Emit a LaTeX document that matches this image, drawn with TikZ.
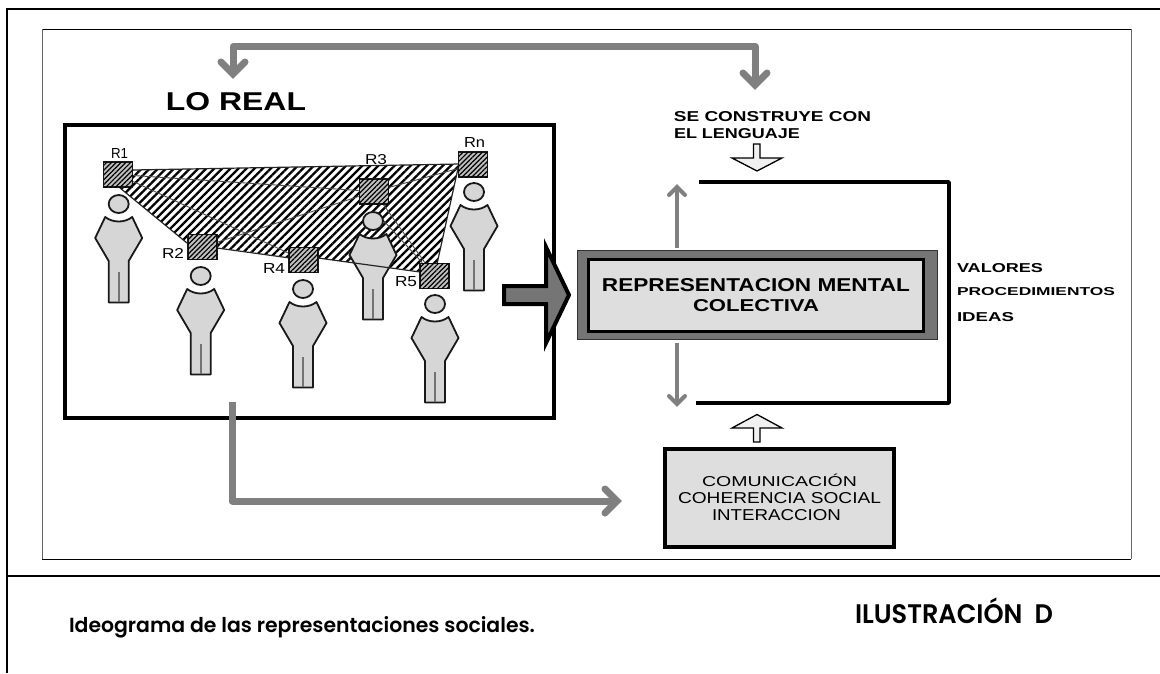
\documentclass[tikz,border=0pt]{standalone}
\usepackage{graphicx}
\usepackage{fontspec}
\setmainfont{Liberation Sans}
\newfontfamily\capsfont{Liberation Sans}
\newfontfamily\gothfont[BoldFont={Poppins SemiBold}]{Poppins}
\usetikzlibrary{arrows.meta,patterns.meta,shapes.geometric}
\definecolor{pale}{gray}{0.87}
\definecolor{body}{gray}{0.84}
\definecolor{midgray}{gray}{0.5}
\definecolor{darkfill}{gray}{0.46}
\tikzset{
  lbl/.style={inner sep=0pt,outer sep=0pt,text=black},
  frameline/.style={line width=2pt,black},
  graywire/.style={midgray,line width=7pt,line join=round},
  grayshort/.style={midgray,line width=4pt},
  linkline/.style={black!70,line width=0.9pt},
  edgeline/.style={black!85,line width=1.2pt},
  headshape/.style={draw=black!90,fill=body,line width=1.8pt,ellipse,minimum width=20pt,minimum height=18pt,inner sep=0pt},
  bodyshape/.style={draw=black!90,fill=body,line width=1.8pt,line join=round},
  rep/.style={draw=black!90,line width=1.6pt,fill=black!25,minimum width=29pt,minimum height=25pt,inner sep=0pt,
    postaction={pattern={Lines[angle=45,distance=3.4pt,line width=1.2pt]},pattern color=black}},
  hollow/.style={draw=black,line width=1.3pt,fill=black!6,line join=miter},
  blackbar/.style={black,line width=3.4pt,line join=round}
}
% name, x1, y1, x2, y2, text: text fills exactly the given box
\newcommand{\fitlabel}[6]{%
  \pgfmathsetlengthmacro{\fitw}{(#4-#2)*1pt}%
  \pgfmathsetlengthmacro{\fith}{(#5-#3)*1pt}%
  \node[lbl] (#1) at ({(#2+#4)/2},{(#3+#5)/2}) {\resizebox{\fitw}{\fith}{#6}};}
\newcommand{\person}[3]{%
  \node[headshape] (#1) at (#2,#3) {};
  \draw[bodyshape,shift={(#2,#3)}] (-13.5,13) .. controls (-6,19) and (6,19) .. (13.5,13) -- (23.5,34) -- (10,57) -- (10,98.5) -- (-10,98.5) -- (-10,57) -- (-23.5,34) -- cycle;
  \draw[shift={(#2,#3)},black!55,line width=1.6pt] (0,68) -- (0,98);}
% chevron head: apex coordinate, rotation (0 down, 90 right, 180 up), line width, size
\newcommand{\chevron}[4]{%
  \draw[midgray,line width=#3,line cap=round,line join=miter,shift={(#1)},rotate=#2] (-#4,-#4) -- (0,0) -- (#4,-#4);}
\begin{document}
\begin{tikzpicture}[x=1pt,y=-1pt]
\useasboundingbox (0,0) rectangle (1160,673);
\fill[white] (0,0) rectangle (1160,673);
% page frame
\coordinate (fTR) at (1160,9);
\coordinate (fTL) at (7,9);
\coordinate (fBL) at (7,673);
\coordinate (fML) at (7,576);
\coordinate (fMR) at (1160,576);
\draw[frameline] (fTR) -- (fTL) -- (fBL);
\draw[frameline] (fML) -- (fMR);
% inner frame
\draw[black,line width=1pt] (42,29) -- (1131,29);
\draw[black,line width=1pt] (42,559) -- (1131,559);
\draw[black!60,line width=1pt] (42,29) -- (42,559);
\draw[black!60,line width=1pt] (1131,29) -- (1131,559);
% LO REAL box
\draw[black,line width=4pt] (65,124.5) rectangle (553.5,417.5);
\fitlabel{loreal}{166}{93}{306}{111}{\capsfont\bfseries LO REAL}
% hatch
\coordinate (p1) at (133,170);
\coordinate (p2) at (459,164);
\coordinate (p3) at (437,264);
\coordinate (p4) at (420,272);
\coordinate (p5) at (318,258);
\coordinate (p6) at (290,258);
\coordinate (p7) at (217,248);
\coordinate (p8) at (187,243);
\coordinate (p9) at (120,188);
\path[pattern={Lines[angle=45,distance=5.7pt,line width=2.3pt]},pattern color=black]
  (p1) -- (p2) -- (p3) -- (p4) -- (p5) -- (p6) -- (p7) -- (p8) -- (p9) -- cycle;
\draw[edgeline] (p1) -- (p2) -- (p3);
\draw[edgeline] (p8) -- (p9);
\draw[edgeline] (p7) -- (p6);
% representation squares
\path (118,174.5) node[rep] (R1) {} (202.5,247) node[rep] (R2) {} (303.5,260) node[rep] (R4) {}
      (374,191.5) node[rep] (R3) {} (434.5,276) node[rep] (R5) {} (473,164.5) node[rep] (Rn) {};
% links
\draw[linkline] (R1) -- (R3);
\draw[linkline] (R1) -- (R4);
\draw[linkline] (R2) -- (R3);
\draw[linkline] (R3) -- (Rn);
\draw[linkline] (R3) -- (R5);
\coordinate (l1) at (383,220);
\draw[linkline] (l1) -- (R5);
% people
\person{h1}{118.7}{204}
\person{h2}{200.7}{276}
\person{h3}{303}{289}
\person{h4}{373}{221}
\person{h5}{435}{304}
\person{hn}{474}{192}
\draw[edgeline] (p5) -- (p4);
% squares again above the people and links
\path (118,174.5) node[rep] {} (202.5,247) node[rep] {} (303.5,260) node[rep] {}
      (374,191.5) node[rep] {} (434.5,276) node[rep] {} (473,164.5) node[rep] {};
\fitlabel{t1}{111}{148}{128}{158}{\capsfont R1}
\fitlabel{t2}{162}{248}{184}{258}{\capsfont R2}
\fitlabel{t4}{263}{263}{285}{273}{\capsfont R4}
\fitlabel{t3}{365}{155}{387}{165}{\capsfont R3}
\fitlabel{t5}{395}{277}{417}{287}{\capsfont R5}
\fitlabel{tn}{464}{137}{485}{147}{\capsfont Rn}
% top connector
\coordinate (topL) at (233,74);
\coordinate (topLc) at (233,46.5);
\coordinate (topRc) at (755,46.5);
\coordinate (topR) at (755,85);
\draw[graywire] (topL) -- (topLc) -- (topRc) -- (topR);
\chevron{topL}{0}{7pt}{12}
\chevron{topR}{0}{7pt}{12}
% bottom connector
\coordinate (botS) at (232,402);
\coordinate (botC) at (232,501);
\coordinate (botE) at (617,501);
\draw[graywire] (botS) -- (botC) -- (botE);
\chevron{botE}{90}{7pt}{12}
% big arrow
\draw[black,line width=4pt,fill=darkfill,miter limit=6,line join=miter]
  (504,286) -- (546,286) -- (546,247) -- (569,295) -- (546,343) -- (546,304) -- (504,304) -- cycle;
% central box
\node[draw=black!80,line width=0.8pt,fill=darkfill,minimum width=360pt,minimum height=89pt,inner sep=0pt] (outerbox) at (757,294.5) {};
\node[draw=black,line width=3.4pt,fill=pale,minimum width=335pt,minimum height=72pt,inner sep=0pt] (innerbox) at (756,295.5) {};
\fitlabel{rm1}{602}{279}{910}{292}{\capsfont\bfseries REPRESENTACION MENTAL}
\fitlabel{rm2}{693}{300}{819}{312}{\capsfont\bfseries COLECTIVA}
% arrows of the central box
\coordinate (upS) at (677,248);
\coordinate (upE) at (677,187);
\coordinate (dnS) at (677,343);
\coordinate (dnE) at (677,404);
\draw[grayshort] (upS) -- (upE);
\draw[grayshort] (dnS) -- (dnE);
\chevron{upE}{180}{4pt}{8}
\chevron{dnE}{0}{4pt}{8}
% bracket
\coordinate (b1) at (699,182);
\coordinate (b2) at (949,182);
\coordinate (b3) at (949,403);
\coordinate (b4) at (696,403);
\draw[blackbar] (b1) -- (b2) -- (b3) -- (b4);
% hollow arrows
\draw[hollow] (753.5,144) -- (760,144) -- (760,158) -- (782,158) -- (757,171) -- (732,158) -- (753.5,158) -- cycle;
\draw[hollow] (753.5,442) -- (760,442) -- (760,428) -- (782,428) -- (757,414.5) -- (732,428) -- (753.5,428) -- cycle;
% texts
\fitlabel{se1}{674}{112}{871}{122}{\capsfont\bfseries SE CONSTRUYE CON}
\fitlabel{se2}{674}{129}{800}{139}{\capsfont\bfseries EL LENGUAJE}
\fitlabel{v1}{957}{264}{1043}{273}{\capsfont\bfseries VALORES}
\fitlabel{v2}{957}{288}{1115}{296}{\capsfont\bfseries PROCEDIMIENTOS}
\fitlabel{v3}{957}{313}{1014}{322}{\capsfont\bfseries IDEAS}
% lower box
\node[draw=black,line width=3.4pt,fill=pale,minimum width=229pt,minimum height=98pt,inner sep=0pt] (combox) at (779.5,498) {};
\fitlabel{c1}{702}{477}{857}{487}{\capsfont COMUNICACI\smash{Ó}N}
\fitlabel{c2}{678}{493}{881}{504}{\capsfont COHERENCIA SOCIAL}
\fitlabel{c3}{712}{510}{841}{521}{\capsfont INTERACCION}
% caption
\node[lbl,anchor=base west] (cap) at (69,632) {\resizebox{466pt}{!}{\gothfont\bfseries Ideograma de las representaciones sociales.}};
\fitlabel{ill}{855}{605}{1053}{624}{\gothfont\bfseries ILUSTRACI\smash{Ó}N\ \ D}
\end{tikzpicture}
\end{document}
